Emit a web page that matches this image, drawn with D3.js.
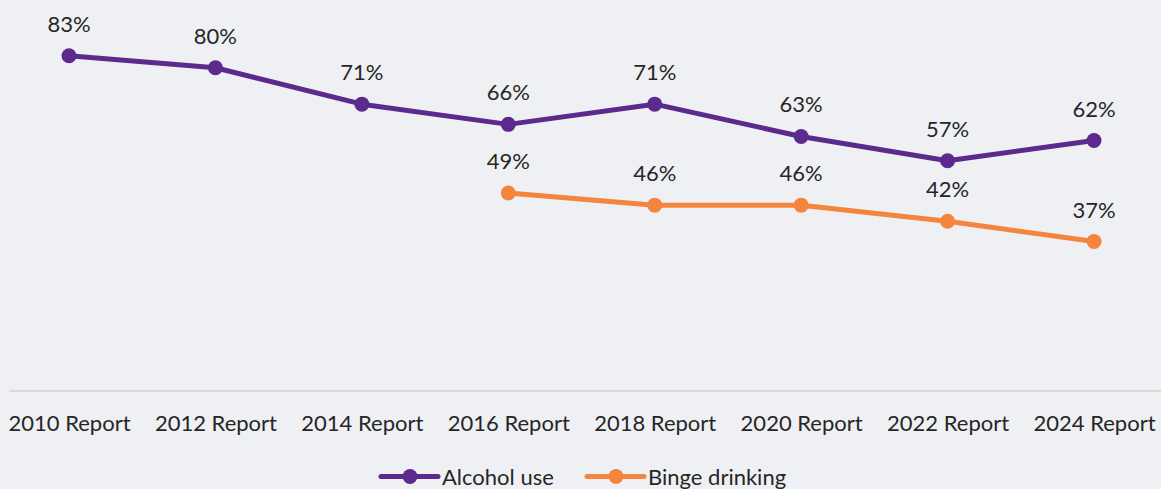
<!DOCTYPE html>
<html>
<head>
<meta charset="utf-8">
<script src="https://cdn.jsdelivr.net/npm/d3@7"></script>
<style>
  html, body { margin: 0; padding: 0; background: #eff0f3; }
  svg { display: block; }
  text { font-family: Lato, "Open Sans", sans-serif; fill: #262626; }
</style>
</head>
<body>
<svg id="chart" width="1161" height="489"></svg>
<script>
// Report years along the x axis
const categories = ["2010 Report", "2012 Report", "2014 Report", "2016 Report",
                    "2018 Report", "2020 Report", "2022 Report", "2024 Report"];

// Percent of respondents; null where the question was not asked
const alcoholUse = [83, 80, 71, 66, 71, 63, 57, 62];
const bingeDrinking = [null, null, null, 49, 46, 46, 42, 37];

const seriesNames = ["Alcohol use", "Binge drinking"];
const seriesColors = ["#5c2a8c", "#f5843d"];

const width = 1161, height = 489;
const svg = d3.select("#chart");

const x = d3.scalePoint().domain(categories).range([69, 1094]);
const y = d3.scaleLinear().domain([0, 100]).range([391, -13]);

// Baseline axis with category labels
const xAxis = d3.axisBottom(x).tickSize(0).tickPadding(0);
const axisG = svg.append("g").attr("transform", `translate(0,${y(0)})`).call(xAxis);
axisG.select(".domain").remove();
axisG.selectAll(".tick text")
  .attr("dy", null)
  .attr("y", 40)
  .style("font-size", "22px")
  .style("font-family", "Lato, 'Open Sans', sans-serif")
  .attr("fill", "#262626");
svg.append("line")
  .attr("x1", 9).attr("x2", width)
  .attr("y1", y(0)).attr("y2", y(0))
  .attr("stroke", "#d9d9d9").attr("stroke-width", 2);

const series = [alcoholUse, bingeDrinking].map((vals, i) => ({
  name: seriesNames[i],
  color: seriesColors[i],
  points: vals.map((v, j) => ({ cat: categories[j], value: v })).filter(d => d.value !== null)
}));

const line = d3.line().x(d => x(d.cat)).y(d => y(d.value));

series.forEach(s => {
  const g = svg.append("g");
  g.append("path")
    .datum(s.points)
    .attr("d", line)
    .attr("fill", "none")
    .attr("stroke", s.color)
    .attr("stroke-width", 5)
    .attr("stroke-linejoin", "round");
  g.selectAll("circle")
    .data(s.points)
    .join("circle")
    .attr("cx", d => x(d.cat))
    .attr("cy", d => y(d.value))
    .attr("r", 7.5)
    .attr("fill", s.color);
  g.selectAll("text")
    .data(s.points)
    .join("text")
    .attr("x", d => x(d.cat))
    .attr("y", d => y(d.value) - 24)
    .attr("text-anchor", "middle")
    .style("font-size", "22px")
    .text(d => d.value + "%");
});

// Legend
const legendItems = [
  { name: seriesNames[0], color: seriesColors[0], x0: 381 },
  { name: seriesNames[1], color: seriesColors[1], x0: 587 }
];
const ly = 476.5;
legendItems.forEach(item => {
  const g = svg.append("g");
  g.append("line")
    .attr("x1", item.x0).attr("x2", item.x0 + 57)
    .attr("y1", ly).attr("y2", ly)
    .attr("stroke", item.color).attr("stroke-width", 5)
    .attr("stroke-linecap", "round");
  g.append("circle")
    .attr("cx", item.x0 + 29).attr("cy", ly).attr("r", 7.5)
    .attr("fill", item.color);
  g.append("text")
    .attr("x", item.x0 + 61).attr("y", ly + 8)
    .style("font-size", "22px")
    .text(item.name);
});
</script>
</body>
</html>
